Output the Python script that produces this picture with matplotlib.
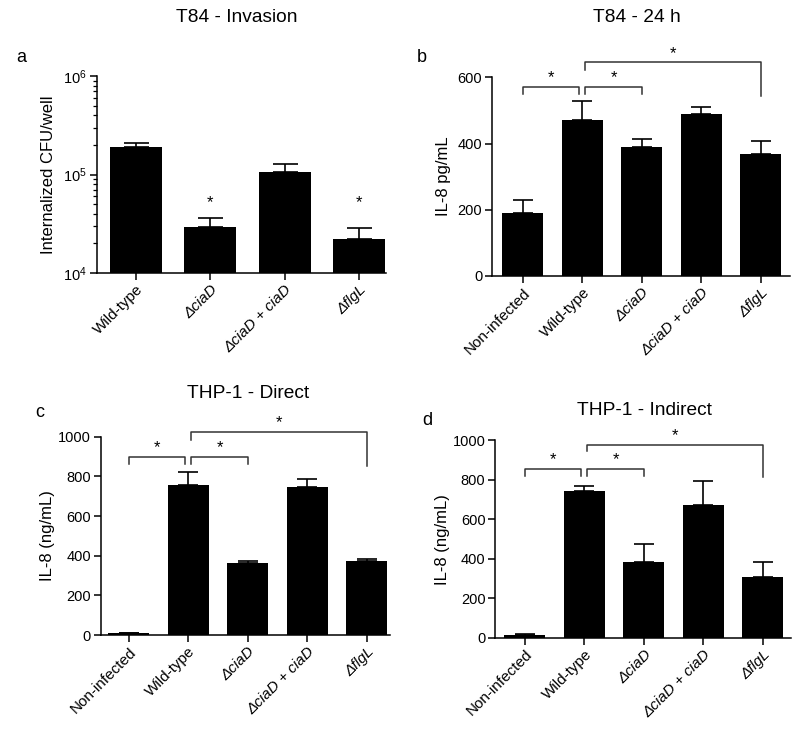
import matplotlib
matplotlib.use("Agg")
import matplotlib.pyplot as plt
import numpy as np

plt.rcParams['font.family'] = ['Liberation Sans', 'DejaVu Sans']
plt.rcParams['mathtext.fontset'] = 'custom'
plt.rcParams['mathtext.rm'] = 'Liberation Sans'
plt.rcParams['mathtext.it'] = 'Liberation Sans:italic'

# ---------------- data ----------------
cats_a = ["Wild-type", "ΔciaD", "ΔciaD + ciaD", "ΔflgL"]
vals_a = [1.9e5, 2.96e4, 1.07e5, 2.24e4]
errs_a = [0.18e5, 0.64e4, 0.20e5, 0.60e4]
stars_a = [None, 5.25e4, None, 5.25e4]

cats_5 = ["Non-infected", "Wild-type", "ΔciaD", "ΔciaD + ciaD", "ΔflgL"]
vals_b = [191, 470, 390, 490, 369]
errs_b = [38, 58, 25, 19, 38]

vals_c = [8, 756, 361, 748, 372]
errs_c = [0, 67, 14, 40, 13]

vals_d = [15, 745, 385, 674, 306]
errs_d = [5, 22, 88, 122, 76]

italic_labels = {"ΔciaD", "ΔciaD + ciaD", "ΔflgL"}

# brackets: (i, j, top, left leg bottom, right leg bottom)
brackets_b = [(0, 1, 571, 550, 550), (1, 2, 571, 550, 550), (1, 4, 646, 622, 544)]
brackets_c = [(0, 1, 899, 861, 861), (1, 2, 899, 861, 861), (1, 4, 1025, 983, 852)]
brackets_d = [(0, 1, 857, 820, 820), (1, 2, 857, 820, 820), (1, 4, 977, 945, 813)]

TITLE_FS = 13.8
YLAB_FS = 12
TICK_FS = 10.5

fig = plt.figure(figsize=(8.0, 7.32), dpi=100)


def style_axes(ax, cats):
    for s in ['top', 'right']:
        ax.spines[s].set_visible(False)
    for s in ['left', 'bottom']:
        ax.spines[s].set_linewidth(1.1)
    ax.tick_params(axis='both', which='major', direction='out', length=5, width=1.1,
                   labelsize=TICK_FS, pad=2)
    ax.tick_params(axis='both', which='minor', direction='out', length=3, width=0.9)
    ax.set_xticks(np.arange(len(cats)))
    ax.set_xticklabels(cats, rotation=45, ha='right', rotation_mode='anchor', fontsize=11)
    for lab in ax.get_xticklabels():
        if lab.get_text() in italic_labels:
            lab.set_fontstyle('italic')


def draw_bars(ax, vals, errs, width, capsize):
    x = np.arange(len(vals))
    ax.bar(x, vals, width=width, color='black', zorder=2)
    ax.errorbar(x, vals, yerr=[np.zeros(len(errs)), errs], fmt='none', ecolor='black',
                elinewidth=1.2, capsize=capsize, capthick=1.2, zorder=3)


def draw_brackets(ax, brackets, star_off):
    for (i, j, top, lb, rb) in brackets:
        xi = i + (0.05 if i == 1 else 0.0)
        xj = j - (0.05 if j == 1 else 0.0)
        ax.plot([xi, xi, xj, xj], [lb, top, top, rb], color='#333333', lw=1.1,
                clip_on=False, zorder=4)
        ax.annotate('*', xy=((xi + xj) / 2, top), xytext=(0, star_off),
                    textcoords='offset points', ha='center', va='bottom',
                    fontsize=12, annotation_clip=False)


# ---------------- panel a ----------------
ax = fig.add_axes([0.121, 0.627, 0.361, 0.269])
draw_bars(ax, vals_a, errs_a, 0.70, 9)
ax.set_yscale('log')
ax.set_ylim(1e4, 1e6)
ax.set_xlim(-0.53, 3.36)
style_axes(ax, cats_a)
ax.set_ylabel("Internalized CFU/well", fontsize=YLAB_FS, labelpad=5)
for k, s in enumerate(stars_a):
    if s is not None:
        ax.text(k, s, '*', ha='center', va='center', fontsize=12)
fig.text(0.296, 0.976, "T84 - Invasion", ha='center', va='center', fontsize=TITLE_FS)
fig.text(0.027, 0.922, "a", ha='center', va='center', fontsize=13)

# ---------------- panel b ----------------
ax = fig.add_axes([0.615, 0.623, 0.373, 0.2714])
draw_bars(ax, vals_b, errs_b, 0.69, 7.5)
ax.set_ylim(0, 600)
ax.set_yticks([0, 200, 400, 600])
ax.set_xlim(-0.52, 4.5)
style_axes(ax, cats_5)
ax.set_ylabel("IL-8 pg/mL", fontsize=YLAB_FS, labelpad=5)
draw_brackets(ax, brackets_b, 1)
fig.text(0.796, 0.976, "T84 - 24 h", ha='center', va='center', fontsize=TITLE_FS)
fig.text(0.527, 0.922, "b", ha='center', va='center', fontsize=13)

# ---------------- panel c ----------------
ax = fig.add_axes([0.126, 0.1325, 0.3616, 0.2709])
draw_bars(ax, vals_c, errs_c, 0.69, 7.5)
ax.set_ylim(0, 1000)
ax.set_yticks([0, 200, 400, 600, 800, 1000])
ax.set_xlim(-0.47, 4.39)
style_axes(ax, cats_5)
ax.set_ylabel("IL-8 (ng/mL)", fontsize=YLAB_FS, labelpad=2)
draw_brackets(ax, brackets_c, 1)
fig.text(0.31, 0.463, "THP-1 - Direct", ha='center', va='center', fontsize=TITLE_FS)
fig.text(0.05, 0.436, "c", ha='center', va='center', fontsize=13)

# ---------------- panel d ----------------
ax = fig.add_axes([0.619, 0.1288, 0.3696, 0.2695])
draw_bars(ax, vals_d, errs_d, 0.69, 7.5)
ax.set_ylim(0, 1000)
ax.set_yticks([0, 200, 400, 600, 800, 1000])
ax.set_xlim(-0.5, 4.47)
style_axes(ax, cats_5)
ax.set_ylabel("IL-8 (ng/mL)", fontsize=YLAB_FS, labelpad=2)
draw_brackets(ax, brackets_d, 1)
fig.text(0.806, 0.439, "THP-1 - Indirect", ha='center', va='center', fontsize=TITLE_FS)
fig.text(0.534, 0.426, "d", ha='center', va='center', fontsize=13)

fig.savefig("out.png", dpi=100)
